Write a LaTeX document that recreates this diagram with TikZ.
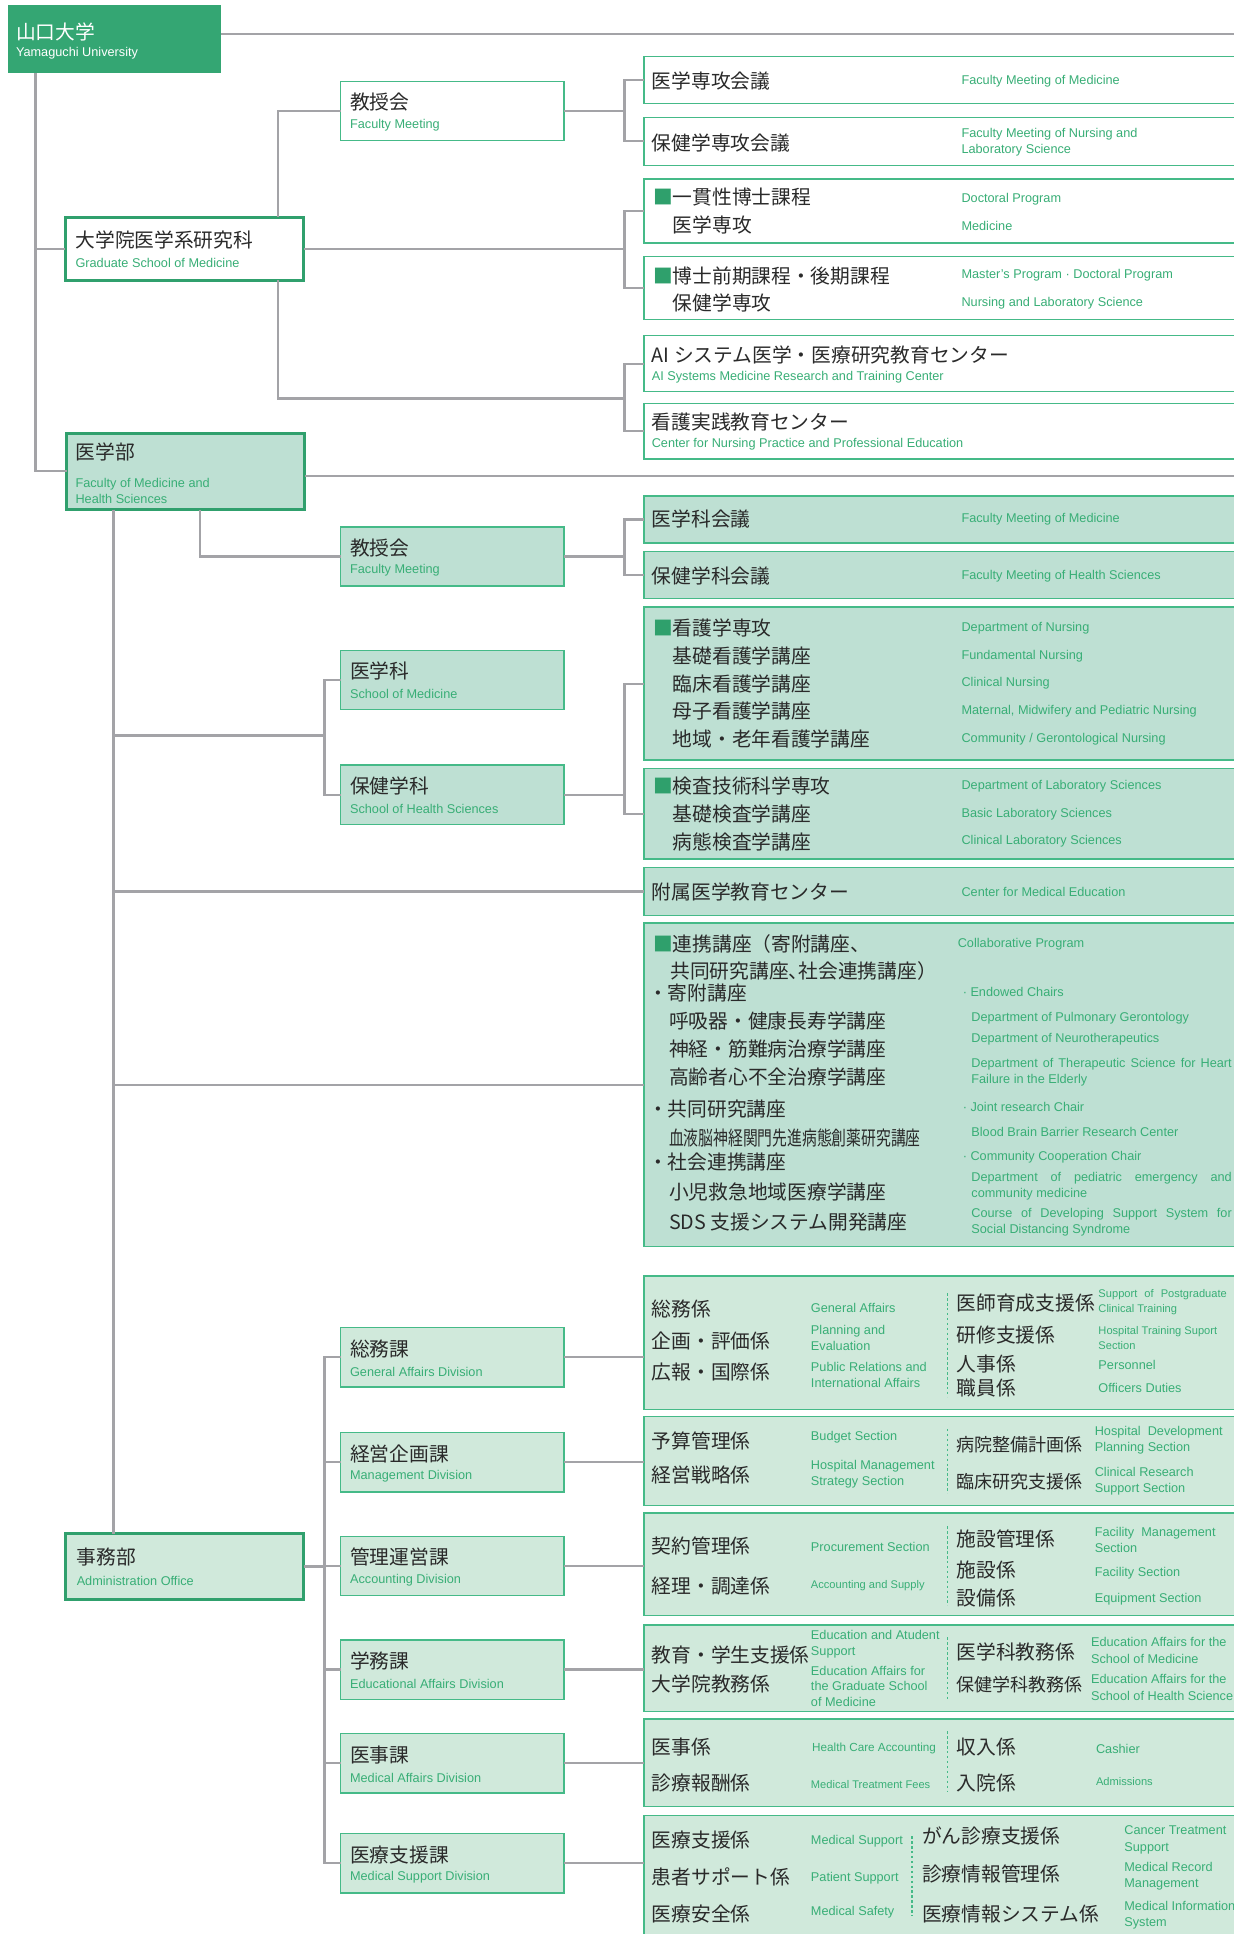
\documentclass[tikz,border=0pt]{standalone}
\usepackage{fontspec}
\setmainfont{Liberation Sans}
\newfontfamily\jpfont{Noto Sans CJK JP}
\newfontfamily\jpnarrow[FakeStretch=0.75]{Noto Sans CJK JP}
\usepackage{xcolor}
\definecolor{unigreen}{HTML}{34A673}
\definecolor{boxgreen}{HTML}{30A06D}
\definecolor{linegreen}{HTML}{45BA88}
\definecolor{engreen}{HTML}{38AE76}
\definecolor{facfill}{HTML}{BEE0D3}
\definecolor{offfill}{HTML}{D0E9DB}
\definecolor{conn}{HTML}{A3A3A7}
\definecolor{jpgray}{HTML}{2A2A2A}
\definecolor{sqgreen}{HTML}{2FA06C}
\newcommand{\sqmark}{\textcolor{sqgreen}{■}}

\begin{document}
\begin{tikzpicture}[x=1pt,y=-1pt]
        \tikzstyle{link}=[draw=conn,line width=1.8pt]
        \tikzstyle{divider}=[draw=linegreen,line width=1.2pt,dash pattern=on 2pt off 2pt]
        \tikzstyle{orgbox}=[anchor=north west,inner sep=0,outer sep=0]
        \tikzstyle{thinbox}=[orgbox,draw=linegreen,line width=1.1pt]
        \tikzstyle{thickbox}=[orgbox,draw=boxgreen,line width=2.6pt]
        \tikzstyle{unitbox}=[thinbox,minimum width=181pt,minimum height=48pt]
        \tikzstyle{rowbox}=[thinbox,minimum width=500pt]
        \tikzstyle{jp}=[anchor=west,inner sep=0,align=left,text=jpgray,font=\jpfont\fontsize{16}{22.5}\selectfont]
        \tikzstyle{jpsm}=[jp,font=\jpfont\fontsize{14.6}{20}\selectfont]
        \tikzstyle{en}=[anchor=west,inner sep=0,align=left,text=engreen,font=\fontsize{10.3}{13}\selectfont]
        \tikzstyle{enrow}=[en,font=\fontsize{10.3}{22.5}\selectfont]
        \tikzstyle{ensm}=[en,font=\fontsize{9}{12}\selectfont]
        \tikzstyle{just}=[text width=211pt,align=justify,execute at begin node={\tolerance=10000}]

        \useasboundingbox (0,0) rectangle (1000,1567.3);

        %% University and Graduate School
        \node[orgbox,fill=unigreen,minimum width=172.6pt,minimum height=55pt] (univ) at (6.4,4) {};
        \node[jp,text=white] (univ-jp) at (12.8,25.7) {山口大学};
        \node[en,text=white] (univ-en) at (12.8,43) {Yamaguchi University};

        \node[thickbox,fill=white,minimum width=193pt,minimum height=51pt] (gsm) at (53,176) {};
        \node[jp] (gsm-jp) at (61,194.5) {大学院医学系研究科};
        \node[en] (gsm-en) at (61,213) {Graduate School of Medicine};
        \node[unitbox,fill=white] (kyoju1) at (276,66) {};

        \foreach \n/\y/\h in {gkai1/46/38,gkai2/95/39,dprog1/145/52,dprog2/208/51,aictr/272/45.5,nsctr/327/45}
            \node[rowbox,fill=white,minimum height=\h pt] (\n) at (522,\y) {};

        \node[jp] (gkai1-jp) at (528,66) {医学専攻会議};
        \node[en] (gkai1-en) at (779,66) {Faculty Meeting of Medicine};
        \node[jp] (gkai2-jp) at (528,116) {保健学専攻会議};
        \node[en] (gkai2-en) at (779,115) {Faculty Meeting of Nursing and\\Laboratory Science};
        \node[jp] (dprog1-jp) at (529,171) {\sqmark 一貫性博士課程\\\hspace*{1em}医学専攻};
        \node[enrow] (dprog1-en) at (779,171.5) {Doctoral Program\\Medicine};
        \node[jp] (dprog2-jp) at (529,234.5) {\sqmark 博士前期課程・後期課程\\\hspace*{1em}保健学専攻};
        \node[enrow] (dprog2-en) at (779,234.5) {Master's Program · Doctoral Program\\Nursing and Laboratory Science};
        \node[jp] (aictr-jp) at (528,288) {AI システム医学・医療研究教育センター};
        \node[en] (aictr-en) at (528,306) {AI Systems Medicine Research and Training Center};
        \node[jp] (nsctr-jp) at (528,342) {看護実践教育センター};
        \node[en] (nsctr-en) at (528,360) {Center for Nursing Practice and Professional Education};

        %% Faculty of Medicine and Health Sciences
        \node[thickbox,fill=facfill,minimum width=193pt,minimum height=62pt] (fac) at (54,351) {};
        \node[jp] (fac-jp) at (61,366) {医学部};
        \node[en] (fac-en) at (61,398) {Faculty of Medicine and\\Health Sciences};
        \node[unitbox,fill=facfill] (kyoju2) at (276,427) {};
        \node[unitbox,fill=facfill] (igk) at (276,527) {};
        \node[unitbox,fill=facfill] (hgk) at (276,620) {};

        \foreach \n/\y/\h in {mkai/402/38,hkai/447/38,nurs/492/124,labo/623/73,fuzoku/703/39,renkei/748/262}
            \node[rowbox,fill=facfill,minimum height=\h pt] (\n) at (522,\y) {};

        \node[jp] (mkai-jp) at (528,421) {医学科会議};
        \node[en] (mkai-en) at (779,421) {Faculty Meeting of Medicine};
        \node[jp] (hkai-jp) at (528,467) {保健学科会議};
        \node[en] (hkai-en) at (779,467) {Faculty Meeting of Health Sciences};
        \node[jp] (nurs-jp) at (529,554) {\sqmark 看護学専攻\\\hspace*{1em}基礎看護学講座\\\hspace*{1em}臨床看護学講座\\\hspace*{1em}母子看護学講座\\\hspace*{1em}地域・老年看護学講座};
        \node[enrow] (nurs-en) at (779,554) {Department of Nursing\\Fundamental Nursing\\Clinical Nursing\\Maternal, Midwifery and Pediatric Nursing\\Community / Gerontological Nursing};
        \node[jp] (labo-jp) at (529,659.5) {\sqmark 検査技術科学専攻\\\hspace*{1em}基礎検査学講座\\\hspace*{1em}病態検査学講座};
        \node[enrow] (labo-en) at (779,659.5) {Department of Laboratory Sciences\\Basic Laboratory Sciences\\Clinical Laboratory Sciences};
        \node[jp] (fuzoku-jp) at (528,723) {附属医学教育センター};
        \node[en] (fuzoku-en) at (779,723) {Center for Medical Education};

        % Collaborative program
        \foreach \x/\y/\t [count=\i] in {529/765/{\sqmark 連携講座（寄附講座、},
                543/787/{共同研究講座、\hspace{-0.5em}社会連携講座）},
                525/805/{・寄附講座},
                542/827/{呼吸器・健康長寿学講座},
                542/850/{神経・筋難病治療学講座},
                542/873/{高齢者心不全治療学講座},
                525/899/{・共同研究講座},
                542/922/{\jpnarrow 血液脳神経関門先進病態創薬研究講座},
                525/942/{・社会連携講座},
                542/966/{小児救急地域医療学講座},
                542/990/{SDS 支援システム開発講座}}
            \node[jp] (renkei-jp\i) at (\x,\y) {\t};
        \node[en] (renkei-en1) at (776,765) {Collaborative Program};
        \node[en] (renkei-en2) at (780,804) {· Endowed Chairs};
        \node[en] (renkei-en3) at (787,825) {Department of Pulmonary Gerontology};
        \node[en] (renkei-en4) at (787,842) {Department of Neurotherapeutics};
        \node[en,just] (renkei-en5) at (787,869) {Department of Therapeutic Science for Heart\linebreak Failure in the Elderly};
        \node[en] (renkei-en6) at (780,897) {· Joint research Chair};
        \node[en] (renkei-en7) at (787,917) {Blood Brain Barrier Research Center};
        \node[en] (renkei-en8) at (780,938) {· Community Cooperation Chair};
        \node[en,just] (renkei-en9) at (787,961.5) {Department of pediatric emergency and\linebreak community medicine};
        \node[en,just] (renkei-en10) at (787,990.5) {Course of Developing Support System for\linebreak Social Distancing Syndrome};

        %% Administration Office
        \node[thickbox,fill=offfill,minimum width=193pt,minimum height=53pt] (jimu) at (53,1243) {};
        \node[jp] (jimu-jp) at (62,1262) {事務部};
        \node[en] (jimu-en) at (62,1281) {Administration Office};
        \foreach \n/\y in {soumu/1076,keiei/1161,kanri/1245,gakumu/1329,iji/1405,iryou/1486}
            \node[unitbox,fill=offfill] (\n) at (276,\y) {};
        \foreach \n/\y/\h in {sec1/1034/108,sec2/1148/72,sec3/1226/83,sec4/1317/70,sec5/1393/71,sec6/1471/104}
            \node[rowbox,fill=offfill,minimum height=\h pt] (\n) at (522,\y) {};

        % unit box texts
        \foreach \n/\j/\e in {kyoju1/教授会/Faculty Meeting,kyoju2/教授会/Faculty Meeting,
                igk/医学科/School of Medicine,hgk/保健学科/School of Health Sciences,
                soumu/総務課/General Affairs Division,keiei/経営企画課/Management Division,
                kanri/管理運営課/Accounting Division,gakumu/学務課/Educational Affairs Division,
                iji/医事課/Medical Affairs Division,iryou/医療支援課/Medical Support Division} {
            \node[jp] (\n-jp) at ([xshift=7.5pt,yshift=-17pt]\n.north west) {\j};
            \node[en] (\n-en) at ([xshift=7.5pt,yshift=-35.5pt]\n.north west) {\e};
        }

        % section dividers
        \foreach \x/\a/\b in {768/1048/1132,768/1158/1210,768/1237/1301,768/1327/1377,768/1403/1452,739/1488/1553}
            \draw[divider] (\x,\a) -- (\x,\b);

        % General Affairs
        \node[jp] (sec1-a) at (528,1061) {総務係};
        \node[jp] (sec1-b) at (528,1087) {企画・評価係};
        \node[jp] (sec1-c) at (528,1112) {広報・国際係};
        \node[en] (sec1-d) at (657,1060) {General Affairs};
        \node[en] (sec1-e) at (657,1084.5) {Planning and\\Evaluation};
        \node[en] (sec1-f) at (657,1114.5) {Public Relations and\\International Affairs};
        \node[jp] (sec1-g) at (775,1056) {医師育成支援係};
        \node[jp] (sec1-h) at (775,1082) {研修支援係};
        \node[jp] (sec1-i) at (775,1105) {人事係};
        \node[jp] (sec1-j) at (775,1125) {職員係};
        \node[ensm,just,text width=104pt] (sec1-k) at (890,1055) {Support of Postgraduate\linebreak Clinical Training};
        \node[ensm] (sec1-l) at (890,1084) {Hospital Training Suport\\Section};
        \node[en] (sec1-m) at (890,1106) {Personnel};
        \node[en] (sec1-n) at (890,1125) {Officers Duties};

        % Management
        \node[jp] (sec2-a) at (528,1168) {予算管理係};
        \node[jp] (sec2-b) at (528,1195) {経営戦略係};
        \node[en] (sec2-c) at (657,1165) {Budget Section};
        \node[en] (sec2-d) at (657,1195) {Hospital Management\\Strategy Section};
        \node[jpsm] (sec2-e) at (775,1171) {病院整備計画係};
        \node[jpsm] (sec2-f) at (775,1201) {臨床研究支援係};
        \node[en] (sec2-g) at (887,1167.5) {Hospital\ \ Development\\Planning Section};
        \node[en] (sec2-h) at (887,1200) {Clinical Research\\Support Section};

        % Accounting
        \node[jp] (sec3-a) at (528,1253) {契約管理係};
        \node[jp] (sec3-b) at (528,1285) {経理・調達係};
        \node[en] (sec3-c) at (657,1254) {Procurement Section};
        \node[ensm] (sec3-d) at (657,1285) {Accounting and Supply};
        \node[jp] (sec3-e) at (775,1247) {施設管理係};
        \node[jp] (sec3-f) at (775,1272) {施設係};
        \node[jp] (sec3-g) at (775,1295) {設備係};
        \node[en] (sec3-h) at (887,1248) {Facility\ \ Management\\Section};
        \node[en] (sec3-i) at (887,1275) {Facility Section};
        \node[en] (sec3-j) at (887,1296) {Equipment Section};

        % Educational Affairs
        \node[jp] (sec4-a) at (528,1341) {教育・学生支援係};
        \node[jp] (sec4-b) at (528,1365) {大学院教務係};
        \node[en] (sec4-c) at (657,1332.5) {Education and Atudent\\Support};
        \node[en,font=\fontsize{10.3}{12.5}\selectfont] (sec4-d) at (657,1366.5) {Education Affairs for\\the Graduate School\\of Medicine};
        \node[jp] (sec4-e) at (775,1339) {医学科教務係};
        \node[jpsm] (sec4-f) at (775,1365) {保健学科教務係};
        \node[en] (sec4-g) at (884,1337.5) {Education Affairs for the\\School of Medicine};
        \node[en] (sec4-h) at (884,1367.5) {Education Affairs for the\\School of Health Science};

        % Medical Affairs
        \node[jp] (sec5-a) at (528,1416) {医事係};
        \node[jp] (sec5-b) at (528,1445) {診療報酬係};
        \node[en,font=\fontsize{9.5}{12}\selectfont] (sec5-c) at (658,1417) {Health Care Accounting};
        \node[ensm] (sec5-d) at (657,1446) {Medical Treatment Fees};
        \node[jp] (sec5-e) at (775,1416) {収入係};
        \node[jp] (sec5-f) at (775,1445) {入院係};
        \node[en] (sec5-g) at (888,1417) {Cashier};
        \node[ensm] (sec5-h) at (888,1444) {Admissions};

        % Medical Support
        \node[jp] (sec6-a) at (528,1491) {医療支援係};
        \node[jp] (sec6-b) at (528,1521) {患者サポート係};
        \node[jp] (sec6-c) at (528,1551) {医療安全係};
        \node[en] (sec6-d) at (657,1492) {Medical Support};
        \node[en] (sec6-e) at (657,1522) {Patient Support};
        \node[en] (sec6-f) at (657,1550) {Medical Safety};
        \node[jp] (sec6-g) at (747,1488) {がん診療支援係};
        \node[jp] (sec6-h) at (747,1519) {診療情報管理係};
        \node[jp] (sec6-i) at (747,1551) {医療情報システム係};
        \node[en] (sec6-j) at (911,1491) {Cancer Treatment\\Support};
        \node[en] (sec6-k) at (911,1520.5) {Medical Record\\Management};
        \node[en] (sec6-l) at (911,1552) {Medical Information\\System};

        %% Connectors
        \coordinate (univ-end) at (1000,27.8);
        \coordinate (fac-end) at (1000,386);
        \coordinate (trunk) at (28.8,0);
        \coordinate (gsm-x) at (225,0);
        \coordinate (br-x) at (506,0);
        \coordinate (ctr-join) at (506,323);
        \coordinate (trunkb) at (92,0);
        \coordinate (fac-x) at (162,0);
        \coordinate (sch-join) at (263,596);
        \coordinate (div-x) at (263,0);

        \draw[link] ([yshift=3.7pt]univ.east) -- (univ-end);
        \draw[link] (univ.south -| trunk) |- (fac.west);
        \draw[link] (trunk |- gsm.west) -- (gsm.west);

        \draw[link] (kyoju1.west) -| (gsm.north -| gsm-x);
        \draw[link] (gsm.south -| gsm-x) |- (ctr-join);
        \draw[link] (aictr.west) -| (ctr-join) |- (nsctr.west);
        \draw[link] (kyoju1.east) -- (kyoju1.east -| br-x);
        \draw[link] (gkai1.west) -| (br-x |- kyoju1.east) |- (gkai2.west);
        \draw[link] (gsm.east) -- (gsm.east -| br-x);
        \draw[link] (dprog1.west) -| (br-x |- gsm.east) |- (dprog2.west);

        \draw[link] ([yshift=-4pt]fac.east) -- (fac-end);
        \draw[link] (fac.south -| trunkb) -- (jimu.north -| trunkb);
        \draw[link] (fac.south -| fac-x) |- (kyoju2.west);
        \draw[link] (kyoju2.east) -- (kyoju2.east -| br-x);
        \draw[link] (mkai.west) -| (br-x |- kyoju2.east) |- (hkai.west);
        \draw[link] (trunkb |- sch-join) -- (sch-join);
        \draw[link] (igk.west) -| (sch-join) |- (hgk.west);
        \draw[link] (hgk.east) -- (hgk.east -| br-x);
        \draw[link] (nurs.west) -| (br-x |- hgk.east) |- (labo.west);
        \draw[link] (trunkb |- fuzoku.west) -- (fuzoku.west);
        \draw[link] (trunkb |- renkei.west) -- (renkei.west);

        \draw[link] (jimu.east) -- (jimu.east -| div-x);
        \draw[link] (soumu.west) -| (div-x |- jimu.east) |- (iryou.west);
        \foreach \d in {keiei,kanri,gakumu,iji}
            \draw[link] (\d.west -| div-x) -- (\d.west);
        \foreach \d/\s in {soumu/sec1,keiei/sec2,kanri/sec3,gakumu/sec4,iji/sec5,iryou/sec6}
            \draw[link] (\d.east) -- (\d.east -| \s.west);
\end{tikzpicture}
\end{document}
